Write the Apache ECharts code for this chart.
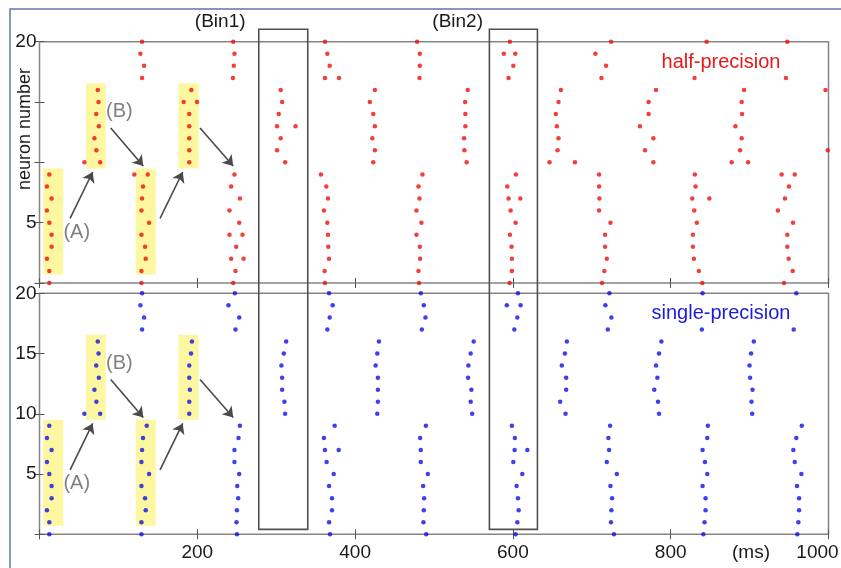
<!DOCTYPE html>
<html>
<head>
<meta charset="utf-8">
<script src="https://cdn.jsdelivr.net/npm/echarts@6/dist/echarts.min.js"></script>
<style>
html,body{margin:0;padding:0;background:#fff;}
#chart{width:841px;height:568px;}
</style>
</head>
<body>
<div id="chart"></div>
<script>
// ---------------- DATA ----------------
const neuronsA = [0,1,2,3,4,5,6,7,8,9];
const neuronsB = [10,11,12,13,14,15,16];
const neuronsC = [17,18,19,20];

const xTicks = [200, 400, 600, 800, 1000];
const yTicksTop = [5, 20];
const yTicksBottom = [5, 10, 15, 20];

// half-precision spike times (ms), one row per burst, one entry per neuron of the group
const halfA = [
  [12.4,12.4,9.4,15.3,15.3,12.4,9.4,15.3,9.4,12.4],
  [129.2,129.2,134.6,133.8,129.2,138.9,129.2,130,131.2,137.2],
  [245.5,248.4,242.9,249.3,240.8,253.1,240.8,254,242.9,247.1],
  [361.8,361.4,366.9,366.0,365.6,364.8,360.5,365.6,363.5,356.7],
  [481.1,480.3,482.4,482,477.8,484.1,477.8,481.6,480.3,485.4],
  [595.8,598.7,598.7,598.3,596.2,603.4,597.1,594.5,592.9,603.8],
  [713,715.9,719,716.8,716.8,723.6,709.2,709.6,709.2,709.2],
  [840,835.7,829.4,828.1,828.1,833.1,829.8,827.3,831.5,830.6],
  [943.6,954.6,949.5,947.8,947.8,955,935.9,944.8,949.9,940.6]
];
const halfB = [
  [76.9,72.1,69.6,75.2,71.9,74.8,73.9],
  [189.8,189.8,189.8,189.8,189.8,199.6,192.4],
  [311.3,301.1,305.7,301.1,303.2,307.5,305.7],
  [423,425.1,421.8,425.1,423,418.7,425.1],
  [541.4,538.5,538.1,539.8,539.8,539.4,542.7],
  [646.4,656.6,657.8,655.7,654.4,657.8,660.8],
  [778,767.4,778,761,772,772,781.4],
  [877.3,887.9,890,882,890.4,890,893],
  [null,999,null,null,null,null,996.2]
];
const halfC = [
  [130,132.5,127.9,130],
  [245.1,246.3,247.1,245.5],
  [361.8,367.8,364.8,361.8],
  [481.6,482,482,478.6],
  [594.5,600.5,588.5,596.2],
  [712.2,718.1,704.5,724.5],
  [830.2,null,null,845.5],
  [946.1,null,null,947.8]
];
// extra spikes [time, neuron]
const halfExtra = [
  [120.2,9],[257.3,4],[258.6,2],[609.4,7],[849,7],[957.2,9],
  [56.9,10],[182.7,15],[324.5,13],[678.6,10],[898.1,10],
  [379.6,17],[603,19]
];

// single-precision spike times (ms)
const singleA = [
  [12.4,12.4,9.4,15.3,15.3,12.4,9.4,15.3,9.4,12.4],
  [129.2,129.2,134.6,133.8,129.2,138.9,129.2,130,131.2,135.9],
  [250.2,249.7,250.2,251.8,250.6,253.1,247.1,247.1,252.2,254],
  [368.2,367,370.7,370.7,367,372.9,363.9,361.8,360.5,374.1],
  [490.1,486.6,487.1,487.5,486.2,492.2,483.3,483.3,482.4,489.7],
  [603.4,605.6,607.3,606.4,604.7,611.9,600.5,602.2,602.5,598.7],
  [728.1,724.3,724.8,725.7,723.6,731.7,719,721.9,721,723.2],
  [841.3,842.9,844.2,844.2,840.4,846.3,843.4,840.4,846.3,847.1],
  [960.5,961.8,962.7,962.7,960.1,965.6,957.2,955.4,959.2,966.1]
];
const singleB = [
  [76.9,72.1,69.6,75.2,71.9,74.8,73.9],
  [189.8,189.8,190.6,189.8,189.8,192,193.2],
  [311.3,310.4,307.5,307.5,306.6,309.6,312.6],
  [428.1,428.9,428.9,428.9,426,428.1,430.2],
  [548.3,546.5,547.4,543.2,543.6,546.5,550.3],
  [666.7,659.9,667.5,667.5,662,665.9,668.4],
  [785.2,783.9,779.2,783.1,781.4,785.2,788.2],
  [903.2,902.4,903.7,900.6,899.9,901.9,905.3]
];
const singleC = [
  [130,132.5,127.9,130],
  [248.4,253.1,239.5,247.6],
  [364.8,367.8,371.6,367],
  [484.6,489.2,487.1,483.3],
  [601.8,605.6,592.3,606.4],
  [720.3,724.8,717.2,722.3],
  [839.5,null,null,840.4],
  [955.9,null,null,959.2]
];
const singleExtra = [[379.2,7],[618.3,7],[56.9,10],[609.8,19]];

// annotation geometry (data units)
const highlightBoxes = [ // [x0, y0, x1, y1]
  [4.8,0.7,30.2,9.5],[59,9.5,83.9,16.55],[122,0.7,147.3,9.5],[176,9.5,201.8,16.55]
];
const arrows = [ // [x0,y0,x1,y1]
  [38.8,5.35,67.4,9.2],[90.3,12.85,131.5,9.7],[152.8,5.35,181.5,9.2],[203.5,12.85,245.5,9.7]
];
const annoLabels = [[47.2,4.2,'(A)'],[101.2,14.2,'(B)']];
const bins = [[277.9,340,'(Bin1)',229],[570.2,631.1,'(Bin2)',530]]; // x0, x1, label, label x
const binTop = 21.03, binBottom = 0.41;

// ---------------- BUILD ----------------
function build(groups, extra){
  const pts = [];
  groups.forEach(([bursts, neurons]) => {
    bursts.forEach(row => row.forEach((t, i) => { if (t != null) pts.push([t, neurons[i]]); }));
  });
  extra.forEach(p => pts.push(p));
  return pts;
}
const halfPts = build([[halfA,neuronsA],[halfB,neuronsB],[halfC,neuronsC]], halfExtra);
const singlePts = build([[singleA,neuronsA],[singleB,neuronsB],[singleC,neuronsC]], singleExtra);

const FONT = "'Liberation Sans', Arial, Helvetica, sans-serif";
const gridBase = {left:39.5, width:789, show:true, borderColor:'#858585', borderWidth:1.5,
  backgroundColor:'#fff', containLabel:false, outerBoundsMode:'none'};
const grids = [
  Object.assign({}, gridBase, {top:41.7, height:241.3}),
  Object.assign({}, gridBase, {top:293.3, height:241})
];
function xAx(grid, pos, labels){
  return {type:'value', gridIndex:grid, position:pos, min:0, max:1000, interval:200,
    axisLine:{show:false}, splitLine:{show:false},
    axisTick:{show:true, inside:true, length:5, lineStyle:{color:'#555', width:1}},
    axisLabel:{show:labels, margin:9, fontSize:19, fontFamily:FONT, color:'#1a1a1a',
      formatter: v => v === 1000 ? '{s|1000}' : (xTicks.includes(v) ? String(v) : ''),
      rich:{s:{fontSize:19, fontFamily:FONT, color:'#1a1a1a', padding:[0,22,0,0]}}}};
}
function yAx(grid, pos, labelsList){
  return {type:'value', gridIndex:grid, position:pos, min:0, max:20, interval:5,
    axisLine:{show:false}, splitLine:{show:false},
    axisTick:{show:true, inside:true, length:5, lineStyle:{color:'#555', width:1}},
    axisLabel:{show:!!labelsList, margin:3, fontSize:19, fontFamily:FONT, color:'#1a1a1a',
      formatter: v => (labelsList && labelsList.includes(v)) ? String(v) : ''}};
}
function annoSeries(xi, yi){
  return [
    {type:'scatter', xAxisIndex:xi, yAxisIndex:yi, data:[], z:1, silent:true,
      markArea:{silent:true, itemStyle:{color:'#fcf7a0'},
        data: highlightBoxes.map(b => [{coord:[b[0],b[1]]},{coord:[b[2],b[3]]}])},
      markLine:{silent:true, symbol:['none','arrow'], symbolSize:10, animation:false,
        lineStyle:{color:'#4a4a4a', width:1.6, type:'solid'}, label:{show:false},
        data: arrows.map(a => [{coord:[a[0],a[1]]},{coord:[a[2],a[3]]}])}},
    {type:'scatter', xAxisIndex:xi, yAxisIndex:yi, data:annoLabels, symbolSize:1, z:2, silent:true,
      itemStyle:{color:'rgba(0,0,0,0)'},
      label:{show:true, position:'inside', formatter:p => p.data[2], fontSize:20, fontFamily:FONT, color:'#606060'}}
  ];
}
const option = {
  animation:false,
  backgroundColor:'#fff',
  grid: grids,
  xAxis:[xAx(0,'bottom',false), xAx(0,'top',false), xAx(1,'bottom',true), xAx(1,'top',false)],
  yAxis:[yAx(0,'left',yTicksTop), yAx(0,'right',null), yAx(1,'left',yTicksBottom), yAx(1,'right',null)],
  series:[
    ...annoSeries(0,0),
    ...annoSeries(2,2),
    {name:'half-precision', type:'scatter', xAxisIndex:0, yAxisIndex:0, data:halfPts, symbolSize:4.5, clip:false, z:5,
      itemStyle:{color:'#ee0e0e'}},
    {name:'single-precision', type:'scatter', xAxisIndex:2, yAxisIndex:2, data:singlePts, symbolSize:4.5, clip:false, z:5,
      itemStyle:{color:'#1010e6'}}
  ]
};
const chart = echarts.init(document.getElementById('chart'), null, {renderer:'canvas'});
chart.setOption(option);

// overlay graphics (bins span both panels)
const graphics = [
  {type:'rect', shape:{x:10, y:9, width:900, height:700}, style:{fill:'none', stroke:'#5b76aa', lineWidth:1.5}, silent:true, z:0},
  {type:'text', x:25, y:129, rotation:Math.PI/2, style:{text:'neuron number', font:'18px '+FONT, fill:'#1a1a1a', textAlign:'center', textVerticalAlign:'middle'}, z:20},
  {type:'text', x:751, y:553, style:{text:'(ms)', font:'19px '+FONT, fill:'#1a1a1a', textAlign:'center', textVerticalAlign:'middle'}, z:20},
  {type:'text', x:721, y:62, style:{text:'half-precision', font:'20px '+FONT, fill:'#e41a1a', textAlign:'center', textVerticalAlign:'middle'}, z:20},
  {type:'text', x:721, y:313, style:{text:'single-precision', font:'20px '+FONT, fill:'#1c1cd8', textAlign:'center', textVerticalAlign:'middle'}, z:20}
];
const yTopPx = chart.convertToPixel({yAxisIndex:0}, binTop);
const yBotPx = chart.convertToPixel({yAxisIndex:2}, binBottom);
bins.forEach(b => {
  const x0 = chart.convertToPixel({xAxisIndex:0}, b[0]);
  const x1 = chart.convertToPixel({xAxisIndex:0}, b[1]);
  const lx = chart.convertToPixel({xAxisIndex:0}, b[3]);
  graphics.push({type:'rect', shape:{x:x0, y:yTopPx, width:x1-x0, height:yBotPx-yTopPx},
    style:{fill:'none', stroke:'#505050', lineWidth:1.6}, silent:true, z:30});
  graphics.push({type:'text', x:lx, y:22, style:{text:b[2], font:'19px '+FONT, fill:'#1a1a1a', textAlign:'center', textVerticalAlign:'middle'}, z:30});
});
chart.setOption({graphic: graphics});
</script>
</body>
</html>
